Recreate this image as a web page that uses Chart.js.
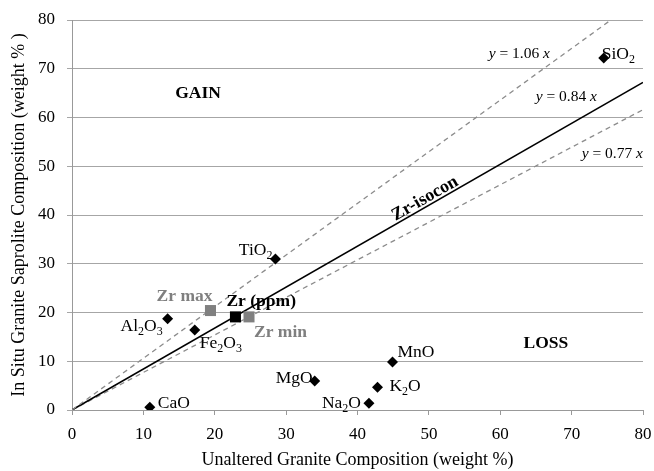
<!DOCTYPE html>
<html><head><meta charset="utf-8">
<script src="https://cdn.jsdelivr.net/npm/chart.js@4/dist/chart.umd.min.js"></script>
<style>html,body{margin:0;padding:0;background:#fff}#wrap{width:654px;height:471px}</style>
</head><body><div id="wrap"><canvas id="c" width="654" height="471"></canvas></div>
<script>
// ---- data ----
const oxideNames = ['SiO_2','TiO_2','Al_2O_3','Fe_2O_3','CaO','MgO','Na_2O','K_2O','MnO'];
const unalteredWt = [74.5, 28.5, 13.4, 17.2, 10.9, 34.0, 41.6, 42.8, 44.9];
const saproliteWt = [72.2, 31.0, 18.7, 16.4, 0.55, 5.95, 1.4, 4.65, 9.85];
const zrNames = ['Zr (ppm)', 'Zr max', 'Zr min'];
const zrUnaltered = [22.9, 19.4, 24.8];
const zrSaprolite = [19.1, 20.4, 19.1];
const lineNames = ['y = 1.06 x', 'y = 0.84 x', 'y = 0.77 x'];
const lineStartX = [0, 0, 0];
const lineStartY = [0, 0, 0];
const lineEndX = [75.5, 80, 80];
const lineEndY = [80, 67.2, 61.6];
const xTicks = [0,10,20,30,40,50,60,70,80];
const yTicks = [0,10,20,30,40,50,60,70,80];

// ---- styling / label placement (pixel offsets from marker) ----
const SERIF = '"Liberation Serif","Times New Roman",serif';
const labelStyle = {
  'SiO_2':   {align:'left',  dx:-2, dy:1},
  'TiO_2':   {align:'right', dx:-3, dy:-4},
  'Al_2O_3': {align:'right', dx:-5, dy:12},
  'Fe_2O_3': {align:'left',  dx:5,  dy:18},
  'CaO':     {align:'left',  dx:8,  dy:1},
  'MgO':     {align:'right', dx:-2, dy:2},
  'Na_2O':   {align:'right', dx:-8, dy:5},
  'K_2O':    {align:'left',  dx:12, dy:4},
  'MnO':     {align:'left',  dx:5,  dy:-5},
  'Zr (ppm)':{align:'left',  dx:-9, dy:-11, bold:true, color:'#000'},
  'Zr max':  {align:'right', dx:2,  dy:-10, bold:true, color:'#7f7f7f'},
  'Zr min':  {align:'left',  dx:5,  dy:20,  bold:true, color:'#7f7f7f'}
};
const eqPos = [ {x:66.97, y:73.0}, {x:73.55, y:64.2}, {x:80, y:52.5} ];
const regionText = [ {t:'GAIN', x:17.65, y:64.9}, {t:'LOSS', x:66.4, y:13.7} ];

function drawSubText(ctx, str, x, y, align, size, bold, color){
  const parts = [];
  let re = /_(\d+)/g, last = 0, m;
  while((m = re.exec(str))){ if(m.index>last) parts.push({t:str.slice(last,m.index),sub:false}); parts.push({t:m[1],sub:true}); last = re.lastIndex; }
  if(last<str.length) parts.push({t:str.slice(last),sub:false});
  const b = bold?'bold ':'';
  const fMain = b+size+'px '+SERIF, fSub = b+Math.round(size*0.68)+'px '+SERIF;
  let total = 0;
  parts.forEach(p=>{ ctx.font = p.sub?fSub:fMain; p.w = ctx.measureText(p.t).width; total += p.w; });
  let cx = align==='right' ? x-total : (align==='center'? x-total/2 : x);
  ctx.fillStyle = color || '#000'; ctx.textBaseline='alphabetic'; ctx.textAlign='left';
  parts.forEach(p=>{ ctx.font = p.sub?fSub:fMain; ctx.fillText(p.t, cx, p.sub? y+4 : y); cx += p.w; });
}

const annot = {
  id:'annot',
  afterDatasetsDraw(chart){
    const ctx = chart.ctx, xs = chart.scales.x, ys = chart.scales.y;
    ctx.save();
    oxideNames.forEach((n,i)=>{
      const s = labelStyle[n];
      drawSubText(ctx, n, xs.getPixelForValue(unalteredWt[i])+s.dx, ys.getPixelForValue(saproliteWt[i])+s.dy, s.align, 17.5, false, '#000');
    });
    zrNames.forEach((n,i)=>{
      const s = labelStyle[n];
      drawSubText(ctx, n, xs.getPixelForValue(zrUnaltered[i])+s.dx, ys.getPixelForValue(zrSaprolite[i])+s.dy, s.align, 17.5, s.bold, s.color);
    });
    lineNames.forEach((n,i)=>{
      const px = xs.getPixelForValue(eqPos[i].x), py = ys.getPixelForValue(eqPos[i].y);
      const segs = [['y','italic'],[n.slice(1,-1),'normal'],['x','italic']];
      let tw = 0;
      segs.forEach(s=>{ ctx.font = (s[1]==='italic'?'italic ':'')+'15.5px '+SERIF; s.w = ctx.measureText(s[0]).width; tw += s.w; });
      let cx = px - tw;
      ctx.fillStyle='#000'; ctx.textBaseline='middle'; ctx.textAlign='left';
      segs.forEach(s=>{ ctx.font = (s[1]==='italic'?'italic ':'')+'15.5px '+SERIF; ctx.fillText(s[0], cx, py); cx += s.w; });
    });
    ctx.font = 'bold 17.5px '+SERIF; ctx.textAlign='center'; ctx.textBaseline='middle'; ctx.fillStyle='#000';
    regionText.forEach(r=> ctx.fillText(r.t, xs.getPixelForValue(r.x), ys.getPixelForValue(r.y)));
    const x0 = xs.getPixelForValue(lineStartX[1]), y0 = ys.getPixelForValue(lineStartY[1]);
    const x1 = xs.getPixelForValue(lineEndX[1]), y1 = ys.getPixelForValue(lineEndY[1]);
    const ang = Math.atan2(y1-y0, x1-x0);
    const t = 0.625;
    const cxp = x0 + (x1-x0)*t, cyp = y0 + (y1-y0)*t;
    ctx.translate(cxp, cyp); ctx.rotate(ang);
    ctx.textBaseline='alphabetic'; ctx.textAlign='center';
    ctx.font = 'bold 18px '+SERIF;
    ctx.fillText('Zr-isocon', 0, -3);
    ctx.restore();
  }
};

const pts = (xa, ya) => xa.map((v,i)=>({x:v, y:ya[i]}));
const lineColors = ['#8c8c8c','#000','#8c8c8c'];
const datasets = [
  {label:'oxides', data:pts(unalteredWt, saproliteWt), pointStyle:'rectRot', radius:5.5, backgroundColor:'#000', borderColor:'#000', borderWidth:0},
  {label:'Zr', data:[{x:zrUnaltered[0], y:zrSaprolite[0]}], pointStyle:'rect', radius:7.8, backgroundColor:'#000', borderColor:'#000', borderWidth:0},
  {label:'Zr range', data:[{x:zrUnaltered[1], y:zrSaprolite[1]},{x:zrUnaltered[2], y:zrSaprolite[2]}], pointStyle:'rect', radius:7.8, backgroundColor:'#808080', borderColor:'#808080', borderWidth:0}
];
lineNames.forEach((n,i)=>{
  datasets.push({label:n, data:[{x:lineStartX[i],y:lineStartY[i]},{x:lineEndX[i],y:lineEndY[i]}], showLine:true, pointRadius:0,
    borderColor:lineColors[i], borderWidth: i===1?1.6:1.3, borderDash: i===1?[]:[5,4], fill:false});
});

new Chart(document.getElementById('c'), {
  type:'scatter',
  data:{datasets},
  options:{
    responsive:false, animation:false, devicePixelRatio:1,
    layout:{padding:{left:0, top:20, right:11, bottom:0}},
    plugins:{legend:{display:false}, tooltip:{enabled:false}},
    scales:{
      x:{type:'linear', min:0, max:80, afterBuildTicks:(s)=>{s.ticks = xTicks.map(v=>({value:v}));},
        afterFit:(s)=>{s.height = 61; s.paddingRight = 0; s.paddingLeft = 0;},
        grid:{drawOnChartArea:false, drawTicks:true, tickLength:5, color:'#999'},
        border:{color:'#999', width:1},
        ticks:{color:'#000', font:{family:SERIF, size:17}, padding:9, maxRotation:0},
        title:{display:true, text:'Unaltered Granite Composition (weight %)', color:'#000', font:{family:SERIF, size:18}, padding:{top:0,bottom:0}}
      },
      y:{type:'linear', min:0, max:80, afterBuildTicks:(s)=>{s.ticks = yTicks.map(v=>({value:v}));},
        afterFit:(s)=>{s.width = 72; s.paddingTop = 0; s.paddingBottom = 0;},
        grid:{drawOnChartArea:true, drawTicks:true, tickLength:5, color:'#a6a6a6'},
        border:{color:'#999', width:1},
        ticks:{color:'#000', font:{family:SERIF, size:17}, padding:12},
        title:{display:true, text:'In Situ Granite Saprolite Composition (weight % )', color:'#000', font:{family:SERIF, size:18}, padding:{top:8,bottom:0}}
      }
    }
  },
  plugins:[annot]
});
</script></body></html>
